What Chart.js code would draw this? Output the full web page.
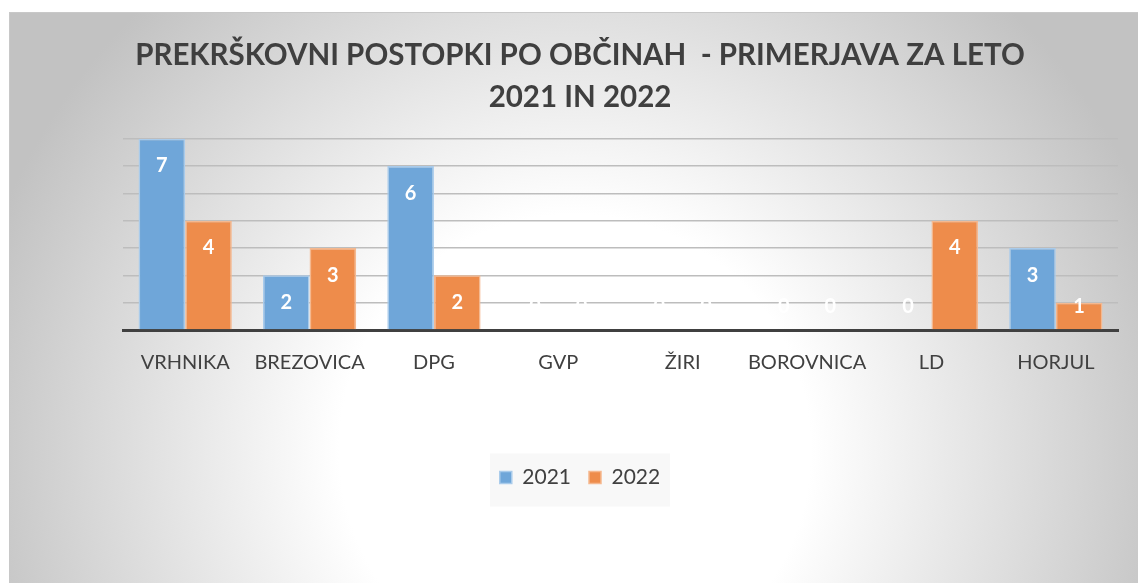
<!DOCTYPE html>
<html>
<head>
<meta charset="utf-8">
<script src="https://cdn.jsdelivr.net/npm/chart.js@4.4.1/dist/chart.umd.min.js"></script>
<style>
html,body{margin:0;padding:0;background:#fff;}
#wrap{width:1138px;height:583px;position:relative;}
</style>
</head>
<body>
<div id="wrap"><canvas id="c" width="1138" height="583"></canvas></div>
<script>
const categories = ['VRHNIKA','BREZOVICA','DPG','GVP','ŽIRI','BOROVNICA','LD','HORJUL'];
const values2021 = [7, 2, 6, 0, 0, 0, 0, 3];
const values2022 = [4, 3, 2, 0, 0, 0, 4, 1];
const seriesNames = ['2021','2022'];
const yTicks = [0,1,2,3,4,5,6,7];
const titleLines = ['PREKRŠKOVNI POSTOPKI PO OBČINAH  - PRIMERJAVA ZA LETO','2021 IN 2022'];

const FONT = 'Lato, "Open Sans", sans-serif';
const TEXT = '#404040';

const bgPlugin = {
  id: 'bg',
  beforeDraw(chart){
    const ctx = chart.ctx;
    ctx.save();
    ctx.fillStyle = '#ffffff';
    ctx.fillRect(0,0,chart.width,chart.height);
    const x0=9, y0=12, x1=chart.width, y1=chart.height;
    const g = ctx.createRadialGradient(575,450,0,575,450,620);
    g.addColorStop(0,'#ffffff');
    g.addColorStop(0.38,'#ffffff');
    g.addColorStop(1,'#c2c2c2');
    ctx.fillStyle = g;
    ctx.fillRect(x0,y0,x1-x0,y1-y0);
    ctx.strokeStyle = '#c8c8c8';
    ctx.lineWidth = 1;
    ctx.strokeRect(x0+0.5,y0+0.5,x1-x0,y1-y0);
    const lg = chart.legend;
    if (lg && lg.legendHitBoxes && lg.legendHitBoxes.length){
      const hb = lg.legendHitBoxes;
      const cy = hb[0].top + hb[0].height/2;
      ctx.fillStyle = '#f8f8f8';
      ctx.fillRect(490, cy-24, 180, 53);
    }
    ctx.restore();
  }
};

const labelPlugin = {
  id: 'vals',
  afterDatasetsDraw(chart){
    const ctx = chart.ctx;
    ctx.save();
    ctx.font = 'bold 20px ' + FONT;
    ctx.fillStyle = '#ffffff';
    ctx.textAlign = 'center';
    ctx.textBaseline = 'middle';
    chart.data.datasets.forEach((ds, i) => {
      const meta = chart.getDatasetMeta(i);
      meta.data.forEach((el, j) => {
        const y = Math.min(el.y + 27, el.base - 23);
        ctx.fillText(String(ds.data[j]), el.x, y);
      });
    });
    ctx.restore();
  }
};

new Chart(document.getElementById('c'), {
  type: 'bar',
  data: {
    labels: categories,
    datasets: [
      { label: seriesNames[0], data: values2021, backgroundColor: '#6FA6D9', borderColor: '#A9CBEB', borderWidth: 1.5 },
      { label: seriesNames[1], data: values2022, backgroundColor: '#EE8C4B', borderColor: '#F5B88F', borderWidth: 1.5 }
    ]
  },
  options: {
    responsive: false,
    animation: false,
    devicePixelRatio: 1,
    layout: { padding: { left: 42, right: 20, top: 35, bottom: 85 } },
    datasets: { bar: { categoryPercentage: 0.75, barPercentage: 1.0 } },
    scales: {
      x: {
        grid: { display: false },
        border: { display: true, color: '#404040', width: 3 },
        ticks: { color: TEXT, font: { family: FONT, size: 20 }, padding: 13, maxRotation: 0 },
        afterFit(scale){ scale.height = 119; }
      },
      y: {
        min: 0, max: 7,
        afterBuildTicks(scale){ scale.ticks = yTicks.map(v => ({ value: v })); },
        ticks: { display: false },
        grid: { color: '#bdbdbd', lineWidth: 1.5, drawTicks: false },
        border: { display: false },
        afterFit(scale){ scale.width = 81; }
      }
    },
    plugins: {
      title: {
        display: true,
        text: titleLines,
        color: '#3f3f3f',
        font: { family: FONT, size: 29.5, weight: 'bold', lineHeight: 1.42 },
        padding: { top: 0, bottom: 20 }
      },
      legend: {
        position: 'bottom',
        labels: { color: TEXT, font: { family: FONT, size: 21 }, boxWidth: 12, boxHeight: 12, padding: 18 }
      },
      tooltip: { enabled: false }
    }
  },
  plugins: [bgPlugin, labelPlugin]
});
</script>
</body>
</html>
